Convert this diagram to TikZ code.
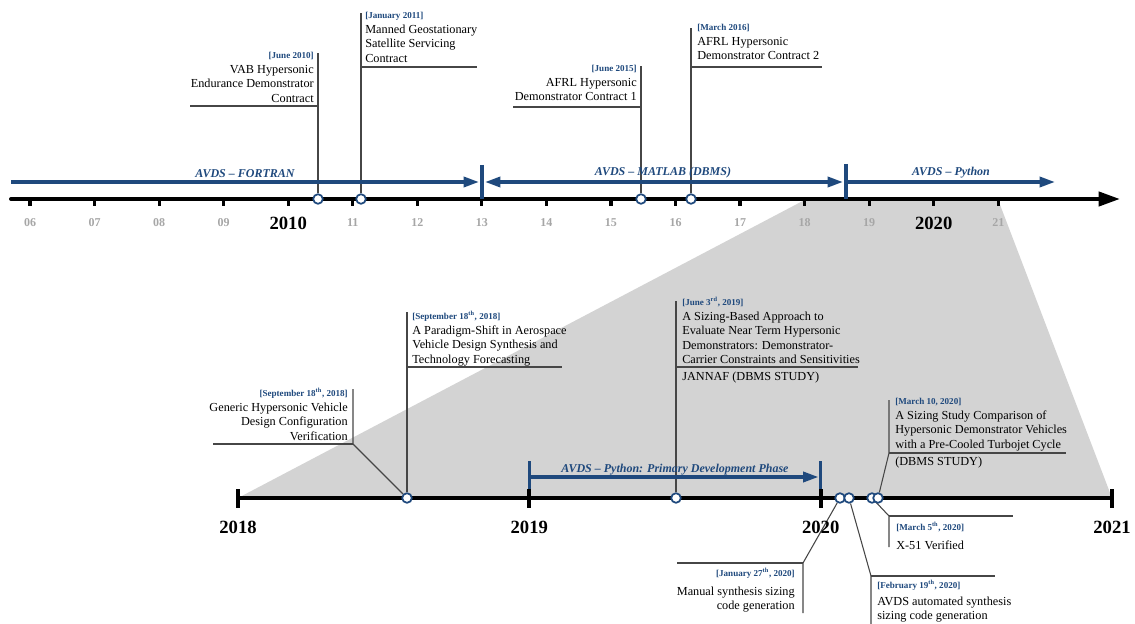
\documentclass[tikz,border=0pt]{standalone}
\usepackage{fontspec}
\setmainfont{Liberation Serif}
\usetikzlibrary{arrows.meta}
\definecolor{navy}{RGB}{31,73,125}
\definecolor{zoomgray}{RGB}{211,211,211}
\definecolor{ticklabel}{RGB}{166,166,166}
\definecolor{leadergray}{RGB}{70,70,70}
\pgfdeclarelayer{bg}
\pgfsetlayers{bg,main}
% date line above each note
\newcommand\evdate[1]{{\fontsize{6.8}{8}\selectfont\bfseries\color{navy}[#1]}}

\begin{document}
\begin{tikzpicture}[x=0.75pt,y=-0.75pt,
  axis/.style={line width=3pt,black},
  tickmark/.style={line width=2.4pt,black},
  period/.style={line width=2.5pt,navy},
  periodbar/.style={line width=2.4pt,navy},
  periodlabel/.style={font=\fontsize{9}{10}\selectfont\bfseries\itshape,text=navy,inner sep=0pt},
  event/.style={circle,draw=navy,fill=white,line width=1.3pt,minimum size=7.2pt,inner sep=0pt},
  leader/.style={line width=0.8pt,leadergray},
  note/.style={font=\fontsize{9.2}{10.9}\selectfont,inner sep=0pt},
  minoryear/.style={font=\fontsize{9}{10}\selectfont\bfseries,text=ticklabel,inner sep=0pt},
  majoryear/.style={font=\fontsize{14}{16}\selectfont\bfseries,inner sep=0pt},
  >={Triangle[length=11.5pt,width=7.5pt]},
]
\useasboundingbox (0,0) rectangle (1135,624);

% zoom wedge from 2018--2021 on the overview axis to the detail axis
\begin{pgfonlayer}{bg}
\fill[zoomgray] (804.6,200) -- (998.2,200) -- (1112,498) -- (238,498) -- cycle;
\end{pgfonlayer}

% ---------------- overview timeline ----------------
\coordinate (axstart) at (11,199);
\coordinate (axend) at (1120,199);
\draw[axis,line cap=round,-{Triangle[length=16pt,width=10.5pt]}] (axstart) -- (axend);
\foreach \i in {0,...,15} \draw[tickmark] ({30+64.55*\i},199) -- ++(0,7);
\foreach \i/\lab in {0/06,1/07,2/08,3/09,5/11,6/12,7/13,8/14,9/15,10/16,11/17,12/18,13/19,15/21}
  \node[minoryear] (yr\lab) at ({30+64.55*\i},223) {\lab};
\node[majoryear] (yr2010) at ({30+64.55*4},223) {2010};
\node[majoryear] (yr2020) at ({30+64.55*14},223) {2020};

% software generations
\coordinate (fa) at (11,182);   \coordinate (fb) at (479,182);
\coordinate (ma) at (485,182);  \coordinate (mb) at (843,182);
\coordinate (pa) at (846,182);  \coordinate (pb) at (1055,182);
\coordinate (bar1a) at (482,165); \coordinate (bar1b) at (482,199);
\coordinate (bar2a) at (846,164); \coordinate (bar2b) at (846,199);
\draw[period,->] (fa) -- (fb);
\draw[period,<->] (ma) -- (mb);
\draw[period,->] (pa) -- (pb);
\draw[periodbar] (bar1a) -- (bar1b);
\draw[periodbar] (bar2a) -- (bar2b);
\node[periodlabel] (fortran) at (245,174) {AVDS -- FORTRAN};
\node[periodlabel] (matlab) at (663,173) {AVDS -- MATLAB (DBMS)};
\node[periodlabel] (python) at (951,173) {AVDS -- Python};

% contract milestones
\node[event] (e1) at (318,199) {};
\node[event] (e2) at (361,199) {};
\node[event] (e3) at (641,199) {};
\node[event] (e4) at (691,199) {};

\node[note,anchor=north east,align=right] (n1) at (314,52)
  {\evdate{June 2010}\\VAB Hypersonic\\Endurance Demonstrator\\Contract};
\node[note,anchor=north west,align=left] (n2) at (365,12)
  {\evdate{January 2011}\\Manned Geostationary\\Satellite Servicing\\Contract};
\node[note,anchor=north east,align=right] (n3) at (637,65)
  {\evdate{June 2015}\\AFRL Hypersonic\\Demonstrator Contract 1};
\node[note,anchor=north west,align=left] (n4) at (697,24)
  {\evdate{March 2016}\\AFRL Hypersonic\\Demonstrator Contract 2};

\coordinate (e1top) at (318,53);  \coordinate (u1a) at (190,106); \coordinate (u1b) at (318,106);
\coordinate (e2top) at (361,13);  \coordinate (u2a) at (361,67);  \coordinate (u2b) at (477,67);
\coordinate (e3top) at (641,66);  \coordinate (u3a) at (513,107); \coordinate (u3b) at (641,107);
\coordinate (e4top) at (691,28);  \coordinate (u4a) at (691,67);  \coordinate (u4b) at (822,67);

% ---------------- detail timeline 2018--2021 ----------------
\coordinate (dstart) at (238,498);
\coordinate (dend) at (1112,498);
\draw[axis,line width=3.4pt] (dstart) -- (dend);
\foreach \x in {238,529.3,820.7,1112} \draw[tickmark,line width=3pt] (\x,489) -- (\x,508);
\node[majoryear] (y2018) at (238,527) {2018};
\node[majoryear] (y2019) at (529.3,527) {2019};
\node[majoryear] (y2020) at (820.7,527) {2020};
\node[majoryear] (y2021) at (1112,527) {2021};

\coordinate (da) at (529.3,477); \coordinate (db) at (818.5,477);
\coordinate (bar3a) at (529.3,461); \coordinate (bar3b) at (529.3,489);
\coordinate (bar4a) at (820.7,461); \coordinate (bar4b) at (820.7,489);
\draw[period,->] (da) -- (db);
\draw[periodbar] (bar3a) -- (bar3b);
\draw[periodbar] (bar4a) -- (bar4b);
\node[periodlabel] (primary) at (675,470) {AVDS -- Python: Primary Development Phase};

\node[event] (s1) at (407,498) {};
\node[event] (s2) at (676,498) {};
\node[event] (s3) at (840,498) {};
\node[event] (s4) at (849,498) {};
\node[event] (s5) at (872,498) {};
\node[event] (s6) at (878,498) {};

\node[note,anchor=north east,align=right] (m1) at (348,388)
  {\evdate{September 18\textsuperscript{th}, 2018}\\Generic Hypersonic Vehicle\\Design Configuration\\Verification};
\node[note,anchor=north west,align=left] (m2) at (412,311)
  {\evdate{September 18\textsuperscript{th}, 2018}\\A Paradigm-Shift in Aerospace\\Vehicle Design Synthesis and\\Technology Forecasting};
\node[note,anchor=north west,align=left] (m3) at (682,297)
  {\evdate{June 3\textsuperscript{rd}, 2019}\\A Sizing-Based Approach to\\Evaluate Near Term Hypersonic\\Demonstrators: Demonstrator-\\Carrier Constraints and Sensitivities};
\node[note,anchor=west] (m3b) at (682,378) {JANNAF (DBMS STUDY)};
\node[note,anchor=north east,align=right] (m4) at (795,568)
  {\evdate{January 27\textsuperscript{th}, 2020}\\[3pt]Manual synthesis sizing\\code generation};
\node[note,anchor=north west,align=left,font=\fontsize{9.2}{10.4}\selectfont] (m5) at (877,580)
  {\evdate{February 19\textsuperscript{th}, 2020}\\[2.5pt]AVDS automated synthesis\\sizing code generation};
\node[note,anchor=north west,align=left] (m6) at (896,522)
  {\evdate{March 5\textsuperscript{th}, 2020}\\[3pt]X-51 Verified};
\node[note,anchor=north west,align=left] (m7) at (895,398)
  {\evdate{March 10, 2020}\\A Sizing Study Comparison of\\Hypersonic Demonstrator Vehicles\\with a Pre-Cooled Turbojet Cycle};
\node[note,anchor=west] (m7b) at (895,463) {(DBMS STUDY)};

\coordinate (g1) at (353,444);  \coordinate (g1top) at (353,389); \coordinate (g1left) at (213,444);
\coordinate (p1top) at (407,312); \coordinate (p1a) at (407,367); \coordinate (p1b) at (562,367);
\coordinate (j3top) at (676,301); \coordinate (j3a) at (676,367); \coordinate (j3b) at (858,367);
\coordinate (k1) at (803,563);  \coordinate (k1bot) at (803,613); \coordinate (k1left) at (677,563);
\coordinate (f1) at (871,576);  \coordinate (f1bot) at (871,624); \coordinate (f1right) at (995,576);
\coordinate (x1) at (889,516);  \coordinate (x1bot) at (889,547); \coordinate (x1right) at (1013,516);
\coordinate (c1) at (889,453);  \coordinate (c1top) at (889,400); \coordinate (c1right) at (1066,453);

% leader lines sit under the markers
\begin{pgfonlayer}{bg}
\draw[leader] (e1) -- (e1top);  \draw[leader] (u1a) -- (u1b);
\draw[leader] (e2) -- (e2top);  \draw[leader] (u2a) -- (u2b);
\draw[leader] (e3) -- (e3top);  \draw[leader] (u3a) -- (u3b);
\draw[leader] (e4) -- (e4top);  \draw[leader] (u4a) -- (u4b);
\draw[leader] (s1) -- (g1) -- (g1top);  \draw[leader] (g1left) -- (g1);
\draw[leader] (s1) -- (p1top);  \draw[leader] (p1a) -- (p1b);
\draw[leader] (s2) -- (j3top);  \draw[leader] (j3a) -- (j3b);
\draw[leader] (s3) -- (k1) -- (k1bot);  \draw[leader] (k1left) -- (k1);
\draw[leader] (s4) -- (f1) -- (f1bot);  \draw[leader] (f1) -- (f1right);
\draw[leader] (s5) -- (x1) -- (x1bot);  \draw[leader] (x1) -- (x1right);
\draw[leader] (s6) -- (c1) -- (c1top);  \draw[leader] (c1) -- (c1right);
\end{pgfonlayer}
\end{tikzpicture}
\end{document}
